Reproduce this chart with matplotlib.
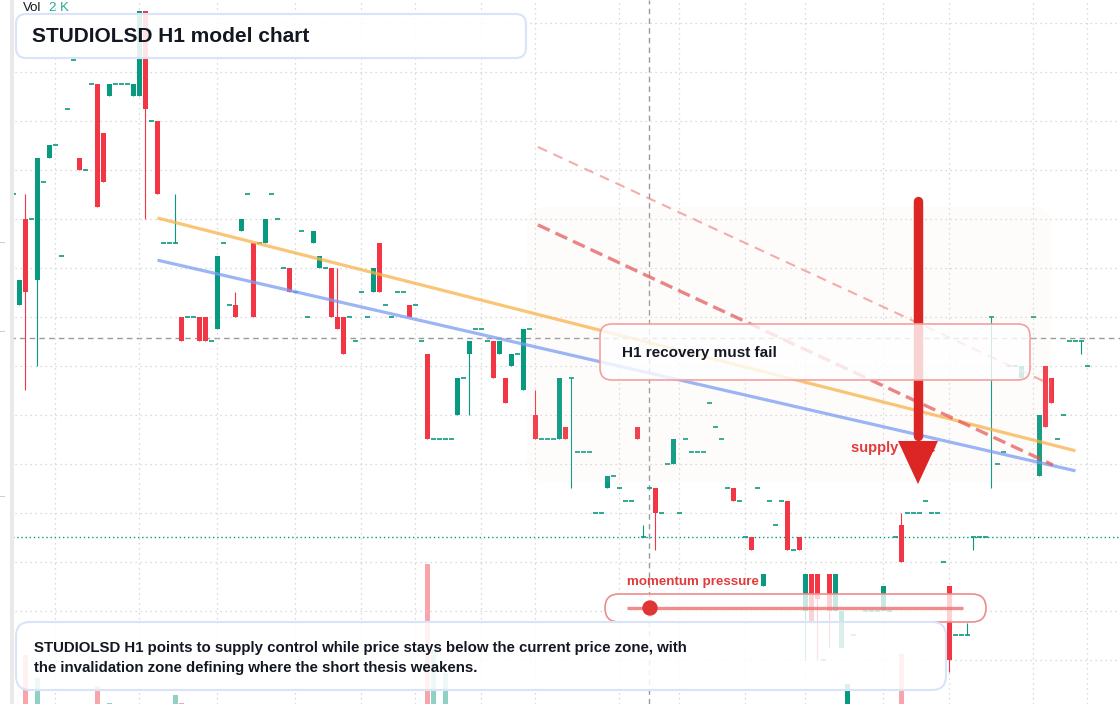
import numpy as np
import matplotlib
matplotlib.use("Agg")
import matplotlib.pyplot as plt
from matplotlib.patches import FancyBboxPatch, Polygon, Circle, Rectangle

plt.rcParams['font.family'] = ['Liberation Sans', 'DejaVu Sans']

# H1 candles, one per bar index (nan = no print)
opens = [
    106.25, 104.00, 105.75, 105.75, 104.50, 106.50, 107.00, 107.25, 105.00, 108.00,
    109.00, 107.00, 106.75, 108.50, 108.50, 107.50, 108.25, 108.50, 108.50, 108.50,
    108.25, 108.25, 110.00, 107.75, 107.75, 105.25, 105.25, 105.25, 103.75, 103.75,
    103.75, 103.75, 103.75, 103.25, 103.50, 105.25, 104.00, 104.00, 105.50, 106.25,
    105.25, 105.25, 105.25, 106.25, 105.75, 104.75, 104.75, 104.25, 105.50, 103.75,
    105.25, 104.75, 104.75, 104.75, 103.75, 103.75, 103.75, 103.25, 104.25, 103.75,
    104.25, 105.25, 104.00, 103.75, 104.25, 104.25, 104.00, 104.00, 103.25, 103.00,
    101.25, 101.25, 101.25, 101.25, 101.75, 102.50, 103.00, 103.50, 103.50, 103.25,
    103.25, 103.00, 102.50, 102.75, 103.00, 102.25, 103.50, 101.75, 101.25, 101.25,
    101.25, 101.25, 101.50, 102.50, 101.00, 101.00, 101.00, 99.75, 99.75, 100.25,
    100.50, 100.25, 100.00, 100.00, 101.50, 99.25, 100.25, 100.25, 99.75, 100.75,
    100.75, 99.75, 101.25, 101.00, 101.00, 101.00, 102.00, 101.50, 101.25, 100.25,
    100.25, 100.00, 99.25, 99.25, 100.25, 98.25, 100.00, 99.50, 100.00, 100.00,
    99.00, 99.25, 97.75, 98.50, 98.50, 96.75, 98.50, 97.75, 97.00, 95.50,
    97.25, np.nan, 97.75, 97.75, 97.75, 97.75, 97.75, 99.25, 99.50, 99.75,
    99.75, 99.75, 100.00, 99.75, 99.75, 98.75, 98.25, 97.25, 97.25, 97.25,
    99.25, 99.25, 99.25, 103.75, 100.75, 101.00, 102.75, 102.75, 102.50, np.nan,
    103.75, 100.50, 102.75, 102.50, 101.25, 101.75, 103.25, 103.25, 103.25, 102.75,
]
closes = [
    106.25, 104.50, 104.25, 105.75, 107.00, 106.50, 107.25, 107.25, 105.00, 108.00,
    109.00, 106.75, 106.75, 108.50, 106.00, 106.50, 108.50, 108.50, 108.50, 108.50,
    108.50, 110.00, 108.00, 107.75, 106.25, 105.25, 105.25, 105.25, 103.25, 103.75,
    103.75, 103.25, 103.25, 103.25, 105.00, 105.25, 104.00, 103.75, 105.75, 106.25,
    103.75, 105.25, 105.75, 106.25, 105.75, 104.75, 104.25, 104.25, 105.50, 103.75,
    105.50, 105.00, 104.75, 103.75, 103.50, 103.00, 103.75, 103.25, 104.25, 103.75,
    104.75, 104.25, 104.00, 103.75, 104.25, 104.25, 103.75, 104.00, 103.25, 101.25,
    101.25, 101.25, 101.25, 101.25, 102.50, 102.50, 103.25, 103.50, 103.50, 103.25,
    102.50, 103.25, 102.00, 103.00, 103.00, 103.50, 103.50, 101.25, 101.25, 101.25,
    101.25, 102.50, 101.25, 102.50, 101.00, 101.00, 101.00, 99.75, 99.75, 100.50,
    100.50, 100.25, 100.00, 100.00, 101.25, 99.25, 100.25, 99.75, 99.75, 100.75,
    101.25, 99.75, 101.25, 101.00, 101.00, 101.00, 102.00, 101.50, 101.25, 100.25,
    100.00, 100.00, 99.25, 99.00, 100.25, 98.50, 100.00, 99.50, 100.00, 99.00,
    99.00, 99.00, 98.50, 97.50, 98.00, 96.75, 97.75, 98.50, 97.75, 96.25,
    97.25, np.nan, 97.75, 97.75, 97.75, 98.25, 97.75, 99.25, 98.75, 99.75,
    99.75, 99.75, 100.00, 99.75, 99.75, 98.75, 96.75, 97.25, 97.25, 97.25,
    99.25, 99.25, 99.25, 103.75, 100.75, 101.00, 102.75, 102.75, 102.75, np.nan,
    103.75, 101.75, 101.50, 102.00, 101.25, 101.75, 103.25, 103.25, 103.25, 102.75,
]
wick_highs = {2: 106.25, 27: 106.25, 37: 104.25, 54: 104.75, 87: 102.25,
              105: 99.50, 148: 99.75, 159: 97.50}
wick_lows = {2: 102.25, 4: 102.75, 22: 105.75, 76: 101.75, 93: 100.25, 107: 99.00,
             132: 96.75, 134: 96.75, 136: 97.00, 156: 96.50, 160: 99.00,
             163: 100.25, 178: 103.00}

vol_index = [2, 4, 14, 16, 27, 28, 69, 70, 72, 148]
vol_values = [700, 370, 260, 20, 130, 20, 2000, 770, 440, 710]

grid_index = [7, 21, 34, 47, 58, 67, 78, 87, 101, 111, 122, 132, 145, 156, 170, 179]
grid_prices = [109.75, 108.75, 107.75, 106.75, 105.75, 104.75, 103.75, 102.75,
               101.75, 100.75, 99.75, 98.75, 97.75, 96.75]
crosshair_index = 106
crosshair_price = 103.32
last_price = 99.25

orange_x, orange_y = [24, 177], [105.77, 101.02]
blue_x, blue_y = [24, 177], [104.91, 100.61]
dash_x, dash_y = [87.4, 173.25], [105.63, 100.73]
dash2_x, dash2_y = [87.4, 172.75], [107.22, 102.38]
arrow_x = 150.75
arrow_top, arrow_base, arrow_tip = 106.12, 101.22, 100.34

UP, DOWN = '#089981', '#f23645'
INK = '#131722'

fig = plt.figure(figsize=(11.2, 7.04), dpi=100)
fig.patch.set_facecolor('white')
ax = fig.add_axes([0, 0, 1, 1])
vax = ax.twinx()
ax.set_zorder(vax.get_zorder() + 1)
ax.patch.set_visible(False)

ax.set_xlim(-2.25, 184.42)
ax.set_ylim(95.852, 110.219)
vax.set_ylim(0, 2000 * 704 / 140)
vax.set_axis_off()

# volume
vcols = [UP if closes[i] >= opens[i] else DOWN for i in vol_index]
vax.bar(vol_index, vol_values, width=0.83, color=vcols, alpha=0.45, linewidth=0)

# grid + crosshair + last price
ax.set_xticks(grid_index)
ax.set_yticks(grid_prices)
ax.grid(True, color='#cfcfcf', linestyle=(0, (1, 3)), linewidth=0.9)
ax.tick_params(length=0, labelbottom=False, labelleft=False)
for s in ax.spines.values():
    s.set_visible(False)
ax.axvline(crosshair_index, color='#9a9a9a', linestyle=(0, (4, 3)), lw=1.0, zorder=1)
ax.axhline(crosshair_price, color='#9a9a9a', linestyle=(0, (4, 3)), lw=1.0, zorder=1)
ax.axhline(last_price, color=UP, linestyle=(0, (1, 2)), lw=1.0, zorder=1)

# candles
for i, (o, c) in enumerate(zip(opens, closes)):
    if np.isnan(o):
        continue
    col = UP if c >= o else DOWN
    hi = wick_highs.get(i, max(o, c))
    lo = wick_lows.get(i, min(o, c))
    if hi > lo:
        ax.vlines(i, lo, hi, color=col, lw=0.8, zorder=3)
    if o == c:
        ax.hlines(o, i - 0.42, i + 0.42, color=col, lw=1.2, zorder=3)
    else:
        ax.bar(i, abs(c - o), bottom=min(o, c), width=0.83, color=col, linewidth=0, zorder=3)

# overlay in pixel space
ov = fig.add_axes([0, 0, 1, 1], zorder=10)
ov.set_xlim(0, 1120)
ov.set_ylim(704, 0)
ov.set_axis_off()
ov.patch.set_alpha(0)


def rbox(x, y, w, h, r, fc, alpha, ec, lw, z):
    ov.add_patch(FancyBboxPatch((x, y), w, h, boxstyle=f"round,pad=0,rounding_size={r}",
                                fc=matplotlib.colors.to_rgba(fc, alpha), ec=ec, lw=lw, zorder=z))


# supply zone
rbox(527, 207, 525, 275, 18, '#f1e2d4', 0.07, 'none', 0, 1)
ov.text(851, 448, 'supply zone', fontsize=10.5, fontweight='bold', color='#e23b3b',
        va='center', ha='left', zorder=3)

# trend lines (price space)
ov.plot(orange_x, orange_y, color='#f7b24a', alpha=0.75, lw=2.3, transform=ax.transData, zorder=2,
        solid_capstyle='butt')
ov.plot(blue_x, blue_y, color='#7b9cf2', alpha=0.75, lw=2.3, transform=ax.transData, zorder=2,
        solid_capstyle='butt')
ov.plot(dash_x, dash_y, color='#e45656', alpha=0.72, lw=2.4, linestyle=(0, (3.9, 1.9)),
        transform=ax.transData, zorder=2)
ov.plot(dash2_x, dash2_y, color='#ee8a8a', alpha=0.7, lw=1.5, linestyle=(0, (4.8, 3.4)),
        transform=ax.transData, zorder=2)

# arrow
ov.plot([arrow_x, arrow_x], [arrow_top, arrow_base + 0.1], color='#dc2626', lw=6.8,
        solid_capstyle='round', transform=ax.transData, zorder=4)
ov.add_patch(Polygon([(arrow_x - 3.33, arrow_base), (arrow_x + 3.33, arrow_base), (arrow_x, arrow_tip)],
                     closed=True, color='#dc2626', lw=0, transform=ax.transData, zorder=4))

# recovery box
rbox(600, 324, 430, 56, 12, 'white', 0.8, '#f2a0a0', 1.2, 5)
ov.text(622, 353, 'H1 recovery must fail', fontsize=11, fontweight='bold', color=INK,
        va='center', ha='left', zorder=6)

# momentum pressure
ov.text(627, 582, 'momentum pressure', fontsize=9.6, fontweight='bold', color='#e23b3b',
        va='center', ha='left', zorder=6)
rbox(605, 594, 381, 28, 14, 'white', 0.78, '#ee8c8c', 1.2, 6)
ov.plot([627, 963], [608, 608], color='#ec7070', alpha=0.8, lw=2.4, zorder=7, solid_capstyle='butt')
ov.add_patch(Circle((650, 608), 7, color='#e03535', zorder=8))

# bottom note
rbox(16, 622, 930, 68, 14, 'white', 0.86, '#d9e4f8', 1.5, 7)
ov.text(34, 648, 'STUDIOLSD H1 points to supply control while price stays below the current price zone, with',
        fontsize=10.8, fontweight='bold', color=INK, va='center', ha='left', zorder=8)
ov.text(34, 668, 'the invalidation zone defining where the short thesis weakens.',
        fontsize=10.8, fontweight='bold', color=INK, va='center', ha='left', zorder=8)

# title
rbox(16, 14, 510, 44, 10, 'white', 0.88, '#d9e4f8', 1.5, 7)
ov.text(32, 36, 'STUDIOLSD H1 model chart', fontsize=15, fontweight='bold', color=INK,
        va='center', ha='left', zorder=8)
ov.text(23, 8, 'Vol', fontsize=9.5, color=INK, va='center', ha='left', zorder=8)
ov.text(49, 8, '2 K', fontsize=9.5, color='#22ab94', va='center', ha='left', zorder=8)

# left scale edge
ov.add_patch(Rectangle((0, 0), 10, 704, fc='white', ec='none', zorder=9))
ov.add_patch(Rectangle((10, 0), 4, 704, fc='#e9e9e9', ec='none', zorder=9))
for ty in [242, 331, 496]:
    ov.plot([0, 4], [ty, ty], color='#cfcfcf', lw=0.8, zorder=10)

fig.savefig('out.png', dpi=100)
